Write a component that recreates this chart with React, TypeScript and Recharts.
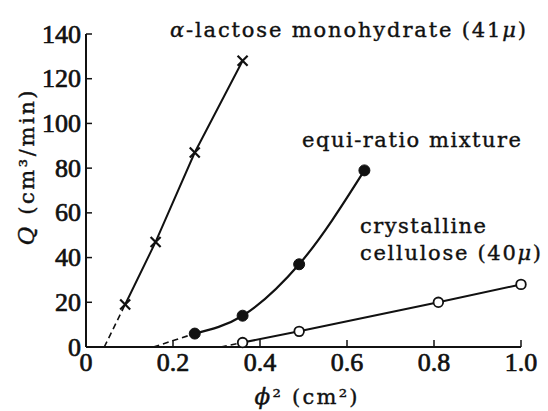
import { ComposedChart, Line, XAxis, YAxis } from 'recharts';

// phi^2 (cm^2) and Q (cm^3/min)
const phiLactose = [0.09, 0.16, 0.25, 0.36];
const qLactose = [19, 47, 87, 128];
const phiMixture = [0.25, 0.36, 0.49, 0.64];
const qMixture = [6, 14, 37, 79];
const phiCellulose = [0.36, 0.49, 0.81, 1.0];
const qCellulose = [2, 7, 20, 28];

// where the dashed extrapolations meet Q = 0
const interceptLactose = 0.042;
const interceptMixture = 0.155;
const interceptCellulose = 0.31;

const xTicks = [0, 0.2, 0.4, 0.6, 0.8, 1.0];
const yTicks = [0, 20, 40, 60, 80, 100, 120, 140];

const toPoints = (xs: number[], ys: number[]) => xs.map((phi, i) => ({ phi, q: ys[i] }));

const lactose = toPoints(phiLactose, qLactose);
const mixture = toPoints(phiMixture, qMixture);
const cellulose = toPoints(phiCellulose, qCellulose);
const lactoseDash = [{ phi: interceptLactose, q: 0 }, lactose[0]];
const mixtureDash = [{ phi: interceptMixture, q: 0 }, mixture[0]];
const celluloseDash = [{ phi: interceptCellulose, q: 0 }, cellulose[0]];

const INK = '#111';
const TICK_FONT = 'Liberation Serif, serif';
const TEXT_FONT = 'DejaVu Serif, serif';

function CrossDot(props: any) {
  const { cx, cy, index } = props;
  const s = 5;
  return (
    <g key={`x-${index}`}>
      <line x1={cx - s} y1={cy - s} x2={cx + s} y2={cy + s} stroke={INK} strokeWidth={2.2} />
      <line x1={cx - s} y1={cy + s} x2={cx + s} y2={cy - s} stroke={INK} strokeWidth={2.2} />
    </g>
  );
}

function FilledDot(props: any) {
  const { cx, cy, index } = props;
  return <circle key={`f-${index}`} cx={cx} cy={cy} r={5.5} fill={INK} stroke={INK} />;
}

function OpenDot(props: any) {
  const { cx, cy, index } = props;
  return <circle key={`o-${index}`} cx={cx} cy={cy} r={4.8} fill="#fff" stroke={INK} strokeWidth={1.8} />;
}

const tickText = {
  fontFamily: TICK_FONT,
  fontSize: 26,
  fill: INK,
  stroke: INK,
  strokeWidth: 0.7,
};

function XTick(props: any) {
  const { x, y, payload } = props;
  const v = payload.value as number;
  return (
    <g>
      {v !== 0 && <line x1={x} x2={x} y1={y} y2={y - 7} stroke={INK} strokeWidth={1.5} />}
      <text x={x} y={y + 24} textAnchor="middle" {...tickText}>
        {v === 0 ? '0' : v.toFixed(1)}
      </text>
    </g>
  );
}

function YTick(props: any) {
  const { x, y, payload } = props;
  return (
    <g>
      <line x1={x} x2={x + 6} y1={y} y2={y} stroke={INK} strokeWidth={1.5} />
      <text x={x - 5} y={y + 8.5} textAnchor="end" {...tickText}>
        {payload.value}
      </text>
    </g>
  );
}

const textStyle = {
  fontFamily: TEXT_FONT,
  fontSize: 21,
  fill: INK,
  stroke: INK,
  strokeWidth: 0.4,
};

export default function App() {
  return (
    <div style={{ position: 'absolute', left: 0, top: 0, width: 548, height: 411, background: '#fff' }}>
      <ComposedChart width={548} height={411} margin={{ top: 34, right: 27, left: 26, bottom: 24 }}>
        <XAxis
          dataKey="phi"
          type="number"
          domain={[0, 1]}
          ticks={xTicks}
          height={40}
          tickSize={0}
          tickMargin={0}
          tick={<XTick />}
          axisLine={{ stroke: INK, strokeWidth: 2 }}
          tickLine={false}
        />
        <YAxis
          dataKey="q"
          type="number"
          domain={[0, 140]}
          ticks={yTicks}
          width={60}
          tickSize={0}
          tickMargin={0}
          tick={<YTick />}
          axisLine={{ stroke: INK, strokeWidth: 2 }}
          tickLine={false}
        />
        <Line data={lactoseDash} dataKey="q" type="linear" stroke={INK} strokeWidth={1.6} strokeDasharray="6 4" dot={false} isAnimationActive={false} />
        <Line data={mixtureDash} dataKey="q" type="linear" stroke={INK} strokeWidth={1.6} strokeDasharray="6 4" dot={false} isAnimationActive={false} />
        <Line data={celluloseDash} dataKey="q" type="linear" stroke={INK} strokeWidth={1.6} strokeDasharray="6 4" dot={false} isAnimationActive={false} />
        <Line data={lactose} dataKey="q" type="linear" stroke={INK} strokeWidth={2} dot={CrossDot} isAnimationActive={false} />
        <Line data={mixture} dataKey="q" type="monotone" stroke={INK} strokeWidth={2.2} dot={FilledDot} isAnimationActive={false} />
        <Line data={cellulose} dataKey="q" type="linear" stroke={INK} strokeWidth={2} dot={OpenDot} isAnimationActive={false} />
      </ComposedChart>
      <svg width={548} height={411} style={{ position: 'absolute', left: 0, top: 0, pointerEvents: 'none' }}>
        <text x={170} y={37} textLength={356} lengthAdjust="spacing" {...textStyle}>
          <tspan fontStyle="italic">α</tspan>-lactose monohydrate (41<tspan fontStyle="italic">μ</tspan>)
        </text>
        <text x={302} y={147} textLength={219} lengthAdjust="spacing" {...textStyle}>
          equi-ratio mixture
        </text>
        <text x={360} y={233} textLength={126} lengthAdjust="spacing" {...textStyle}>
          crystalline
        </text>
        <text x={360} y={260} textLength={181} lengthAdjust="spacing" {...textStyle}>
          cellulose (40<tspan fontStyle="italic">μ</tspan>)
        </text>
        <text x={34} y={168} transform="rotate(-90 34 168)" textAnchor="middle" textLength={155} lengthAdjust="spacing" {...textStyle}>
          <tspan fontStyle="italic" fontSize={23}>Q</tspan> (cm³/min)
        </text>
        <text x={306} y={404} textAnchor="middle" textLength={103} lengthAdjust="spacing" {...textStyle}>
          <tspan fontStyle="italic" fontSize={23}>ϕ</tspan>² (cm²)
        </text>
      </svg>
    </div>
  );
}
